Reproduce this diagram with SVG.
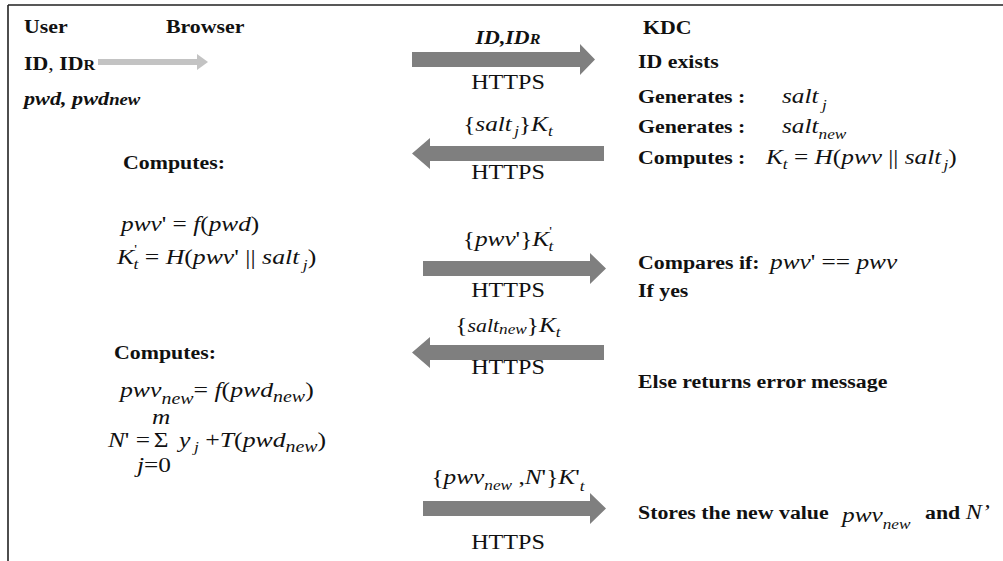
<svg xmlns="http://www.w3.org/2000/svg" width="1003" height="561" viewBox="0 0 1003 561">
<style>
.t{fill:#111}
.b{font-weight:bold;font-size:19px}
.bi{font-weight:bold;font-style:italic;font-size:19px}
.r{font-size:21px}
.m{font-style:italic;font-size:22px}
.n{font-style:normal}
.s{font-size:15px}
.ss{font-size:13px}
.arr{fill:#7f7f7f}
.larr{fill:#c3c3c3}
</style>
<rect width="1003" height="561" fill="#fff"/>
<path d="M8,5 H1003 M8,5 V561" stroke="#222" stroke-width="1.6" fill="none"/>
<g font-family="Liberation Serif, Times New Roman, serif">
<g id="user">
<text class="t b" transform="translate(24,33) scale(1.15,1)">User</text>
<text class="t b" transform="translate(24,70) scale(1.15,1)">ID<tspan font-weight="normal">, </tspan>ID<tspan font-size="14">R</tspan></text>
<text class="t bi" font-size="20" transform="translate(24,105) scale(1.17,1)">pwd, pwd<tspan font-size="16">new</tspan></text>
</g>
<g id="browser">
<text class="t b" transform="translate(166,33) scale(1.15,1)">Browser</text>
</g>

<g id="kdc">
<text class="t b" transform="translate(643,34) scale(1.15,1)">KDC</text>
<text class="t b" transform="translate(638,68) scale(1.15,1)">ID exists</text>
<text class="t b" transform="translate(638,103) scale(1.15,1)">Generates :</text>
<text class="t m" transform="translate(782,103) scale(1.15,1)">salt<tspan class="s" dx="3" dy="7">j</tspan></text>
<text class="t b" transform="translate(638,133) scale(1.15,1)">Generates :</text>
<text class="t m" transform="translate(782,133) scale(1.15,1)">salt<tspan class="s" dy="6">new</tspan></text>
<text class="t b" transform="translate(638,164) scale(1.15,1)">Computes :</text>
<text class="t m" transform="translate(766,164) scale(1.15,1)">K<tspan class="s" dy="5">t</tspan><tspan class="n" dy="-5"> = </tspan>H<tspan class="n">(</tspan>pwv<tspan class="n"> || </tspan>salt<tspan class="s" dx="2" dy="6">j</tspan><tspan class="n" dy="-6">)</tspan></text>
<text class="t b" transform="translate(638,269) scale(1.15,1)">Compares if:</text>
<text class="t m" font-size="24" transform="translate(770,269) scale(1.15,1)">pwv<tspan class="n">' == </tspan>pwv</text>
<text class="t b" transform="translate(638,297) scale(1.15,1)">If  yes</text>
<text class="t b" transform="translate(638,388) scale(1.15,1)">Else returns error message</text>
<text class="t b" transform="translate(638,519) scale(1.15,1)">Stores the new value</text>
<text class="t m" transform="translate(842,522) scale(1.15,1)">pwv<tspan class="s" dy="7">new</tspan></text>
<text class="t b" transform="translate(925,519) scale(1.15,1)">and <tspan font-style="italic" font-weight="normal" font-size="21">N’</tspan></text>
</g>

<g id="user-computes-1">
<text class="t b" transform="translate(123,169) scale(1.15,1)">Computes:</text>
<text class="t m" transform="translate(121,231) scale(1.15,1)">pwv<tspan class="n">' = </tspan>f<tspan class="n">(</tspan>pwd<tspan class="n">)</tspan></text>
<text class="t m" transform="translate(117,264) scale(1.17,1)">K<tspan class="ss n" dy="-11">'</tspan><tspan class="s" dx="-3" dy="16">t</tspan><tspan class="n" dy="-5"> = </tspan>H<tspan class="n">(</tspan>pwv<tspan class="n">' || </tspan>salt<tspan class="s" dx="3" dy="6">j</tspan><tspan class="n" dy="-6">)</tspan></text>
</g>

<g id="user-computes-2">
<text class="t b" transform="translate(114,359) scale(1.15,1)">Computes:</text>
<text class="t m" font-size="23" transform="translate(120,397) scale(1.17,1)">pwv<tspan font-size="17" dy="7">new</tspan><tspan class="n" dy="-7">= </tspan>f<tspan class="n">(</tspan>pwd<tspan font-size="17" dy="5">new</tspan><tspan class="n" dy="-5">)</tspan></text>
<text class="t m" transform="translate(108,447) scale(1.15,1)">N<tspan class="n">' = </tspan></text>
<text class="t n" font-size="22" text-anchor="middle" transform="translate(161,447) scale(1.15,1)">Σ</text>
<text class="t m" font-size="15" text-anchor="middle" transform="translate(161,424) scale(1.15,1)">m</text>
<text class="t m" font-size="17" text-anchor="middle" transform="translate(154,472) scale(1.15,1)">j<tspan class="n">=0</tspan></text>
<text class="t m" font-size="23" transform="translate(179,447) scale(1.17,1)">y<tspan class="s" dx="3" dy="5">j</tspan><tspan class="n" dy="-5"> +</tspan>T<tspan class="n">(</tspan>pwd<tspan font-size="17" dy="5">new</tspan><tspan class="n" dy="-5">)</tspan></text>
</g>

<g id="connectors">
<polygon class="larr" points="98,59 197,59 197,54 208,62 197,70 197,65 98,65"/>

<polygon class="arr" points="412,52 580,52 580,44 595,59.5 580,75 580,67 412,67"/>
<text class="t bi" text-anchor="middle" transform="translate(508,44) scale(1.15,1)">ID,ID<tspan font-size="14">R</tspan></text>
<text class="t r" text-anchor="middle" transform="translate(508,89) scale(1.15,1)">HTTPS</text>

<polygon class="arr" points="604,146 430,146 430,138 412,153.5 430,169 430,161 604,161"/>
<text class="t m" text-anchor="middle" transform="translate(508,131) scale(1.15,1)"><tspan class="n">{</tspan>salt<tspan class="s" dx="2" dy="5">j</tspan><tspan class="n" dy="-5">}</tspan>K<tspan class="s" dy="5">t</tspan></text>
<text class="t r" text-anchor="middle" transform="translate(508,179) scale(1.15,1)">HTTPS</text>

<polygon class="arr" points="423,261 590,261 590,253 606,268.5 590,284 590,276 423,276"/>
<text class="t m" text-anchor="middle" transform="translate(508,246) scale(1.15,1)"><tspan class="n">{</tspan>pwv<tspan class="n">'}</tspan>K<tspan class="ss n" dy="-11">'</tspan><tspan class="s" dx="-3" dy="16">t</tspan></text>
<text class="t r" text-anchor="middle" transform="translate(508,297) scale(1.15,1)">HTTPS</text>

<polygon class="arr" points="604,345 430,345 430,337 412,352.5 430,368 430,360 604,360"/>
<text class="t m" text-anchor="middle" transform="translate(508,332) scale(1.15,1)"><tspan class="n">{</tspan><tspan font-size="19">salt</tspan><tspan class="s" dy="2">new</tspan><tspan class="n" dy="-2">}</tspan>K<tspan class="s" dy="5">t</tspan></text>
<text class="t r" text-anchor="middle" transform="translate(508,374) scale(1.15,1)">HTTPS</text>

<polygon class="arr" points="423,501 590,501 590,493 606,508.5 590,524 590,516 423,516"/>
<text class="t m" text-anchor="middle" transform="translate(508,484) scale(1.15,1)"><tspan class="n">{</tspan>pwv<tspan class="s" dy="6">new</tspan><tspan class="n" dy="-6"> ,</tspan>N<tspan class="n">'}</tspan>K<tspan class="n">'</tspan><tspan class="s" dy="7">t</tspan></text>
<text class="t r" text-anchor="middle" transform="translate(508,549) scale(1.15,1)">HTTPS</text>
</g>
</g>
</svg>
